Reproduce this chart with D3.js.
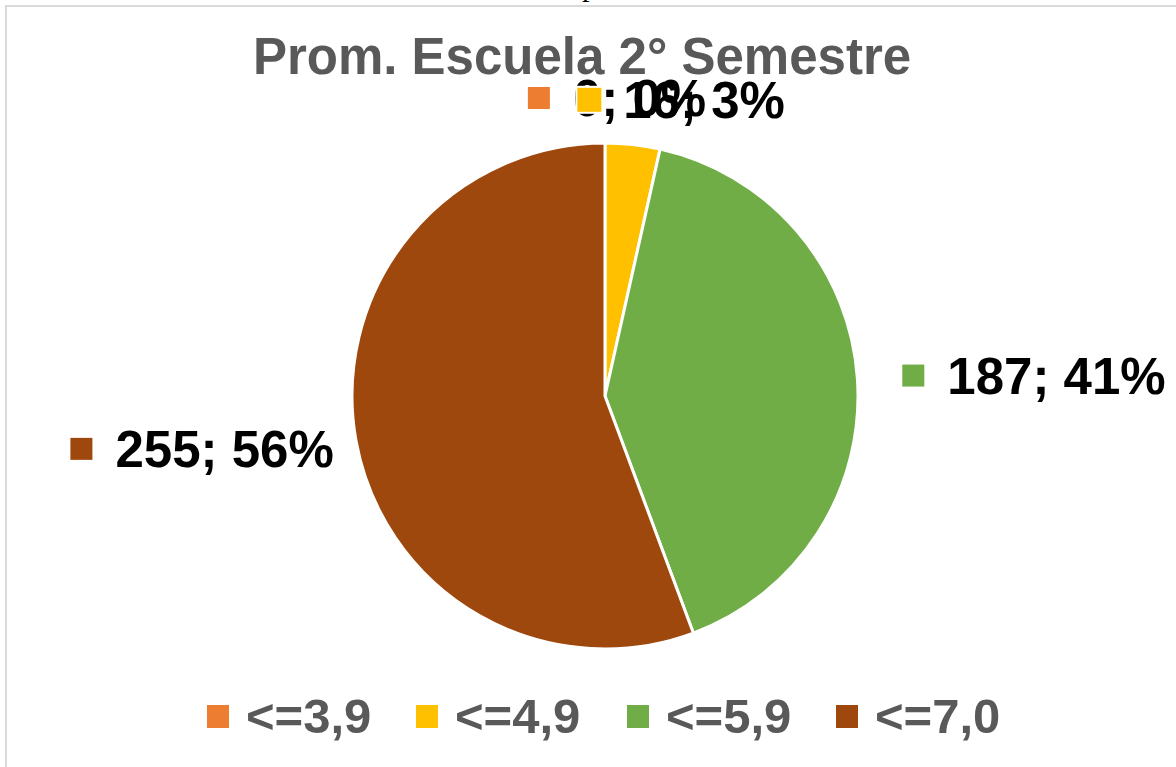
<!DOCTYPE html>
<html>
<head>
<meta charset="utf-8">
<title>Prom. Escuela 2° Semestre</title>
<script src="https://d3js.org/d3.v7.min.js"></script>
<style>
  body { margin: 0; background: #fff; }
  svg { display: block; font-family: "Liberation Sans", Arial, sans-serif; }
</style>
</head>
<body>
<div id="vis"></div>
<script>
// data
var categories = ["<=3,9", "<=4,9", "<=5,9", "<=7,0"];
var counts = [0, 16, 187, 255];
var percents = ["0%", "3%", "41%", "56%"];
var colors = ["#ED7D31", "#FFC000", "#70AD47", "#9E480E"];
var title = "Prom. Escuela 2° Semestre";

var width = 1176, height = 767;
var cx = 605, cy = 396, radius = 253;

var svg = d3.select("#vis").append("svg")
    .attr("width", width)
    .attr("height", height);

// frame of the chart area (only top and left edges visible)
svg.append("rect")
    .attr("x", 6).attr("y", 6)
    .attr("width", 1400).attr("height", 1000)
    .attr("fill", "none")
    .attr("stroke", "#d9d9d9")
    .attr("stroke-width", 2);

// stray descender of text above the chart
svg.append("text")
    .attr("x", 582).attr("y", -4)
    .style("font-family", "'Liberation Serif', serif")
    .style("font-size", "30px")
    .text("p");

svg.append("text")
    .attr("x", 582).attr("y", 74)
    .attr("text-anchor", "middle")
    .attr("fill", "#595959")
    .style("font-weight", "bold")
    .style("font-size", "51px")
    .text(title);

var data = categories.map(function(c, i) {
  return { cat: c, value: counts[i], pct: percents[i], color: colors[i] };
});

var pie = d3.pie().sort(null).value(function(d) { return d.value; });
var arcs = pie(data);

var arc = d3.arc().innerRadius(0).outerRadius(radius);

var g = svg.append("g").attr("transform", "translate(" + cx + "," + cy + ")");

g.selectAll("path")
  .data(arcs)
  .enter().append("path")
    .attr("d", arc)
    .attr("fill", function(d) { return d.data.color; })
    .attr("stroke", "#fff")
    .attr("stroke-width", 3)
    .attr("stroke-linejoin", "round");

// data labels with legend key
var labelArc = d3.arc().innerRadius(radius + 45).outerRadius(radius + 45);
var labelNudge = [12, 44, 0, 0];
var fs = 51, mk = 22, gap = 23;

arcs.forEach(function(a, i) {
  var c = labelArc.centroid(a);
  var txt = a.data.value + "; " + a.data.pct;
  var lg = g.append("g");
  var t = lg.append("text")
      .attr("fill", "#000")
      .style("font-weight", "bold")
      .style("font-size", fs + "px")
      .text(txt);
  var tw = t.node().getComputedTextLength();
  var bw = mk + gap + tw;
  var mid = (a.startAngle + a.endAngle) / 2;
  var s = Math.sin(mid);
  var x0;
  if (Math.abs(s) < 0.5) x0 = c[0] - bw / 2 + labelNudge[i];
  else if (s > 0) x0 = c[0];
  else x0 = c[0] + 22 - bw;
  var yc = c[1];
  var pad = i === 1 ? 2 : 0;
  lg.insert("rect", "text")
      .attr("x", x0 - pad).attr("y", yc - mk / 2 - pad)
      .attr("width", mk + 2 * pad).attr("height", mk + 2 * pad)
      .attr("fill", a.data.color)
      .attr("stroke", pad ? "#fff" : "none")
      .attr("stroke-width", 2);
  t.attr("x", x0 + mk + gap).attr("y", yc + 18);
});

// legend
var legendX = [207, 416, 627, 836];
var leg = svg.append("g").selectAll("g")
  .data(data)
  .enter().append("g")
    .attr("transform", function(d, i) { return "translate(" + legendX[i] + ",717)"; });

leg.append("rect")
    .attr("x", 0).attr("y", -12)
    .attr("width", 22).attr("height", 23)
    .attr("fill", function(d) { return d.color; });

leg.append("text")
    .attr("x", 39).attr("y", 16)
    .attr("fill", "#595959")
    .style("font-weight", "bold")
    .style("font-size", "49px")
    .text(function(d) { return d.cat; });
</script>
</body>
</html>
